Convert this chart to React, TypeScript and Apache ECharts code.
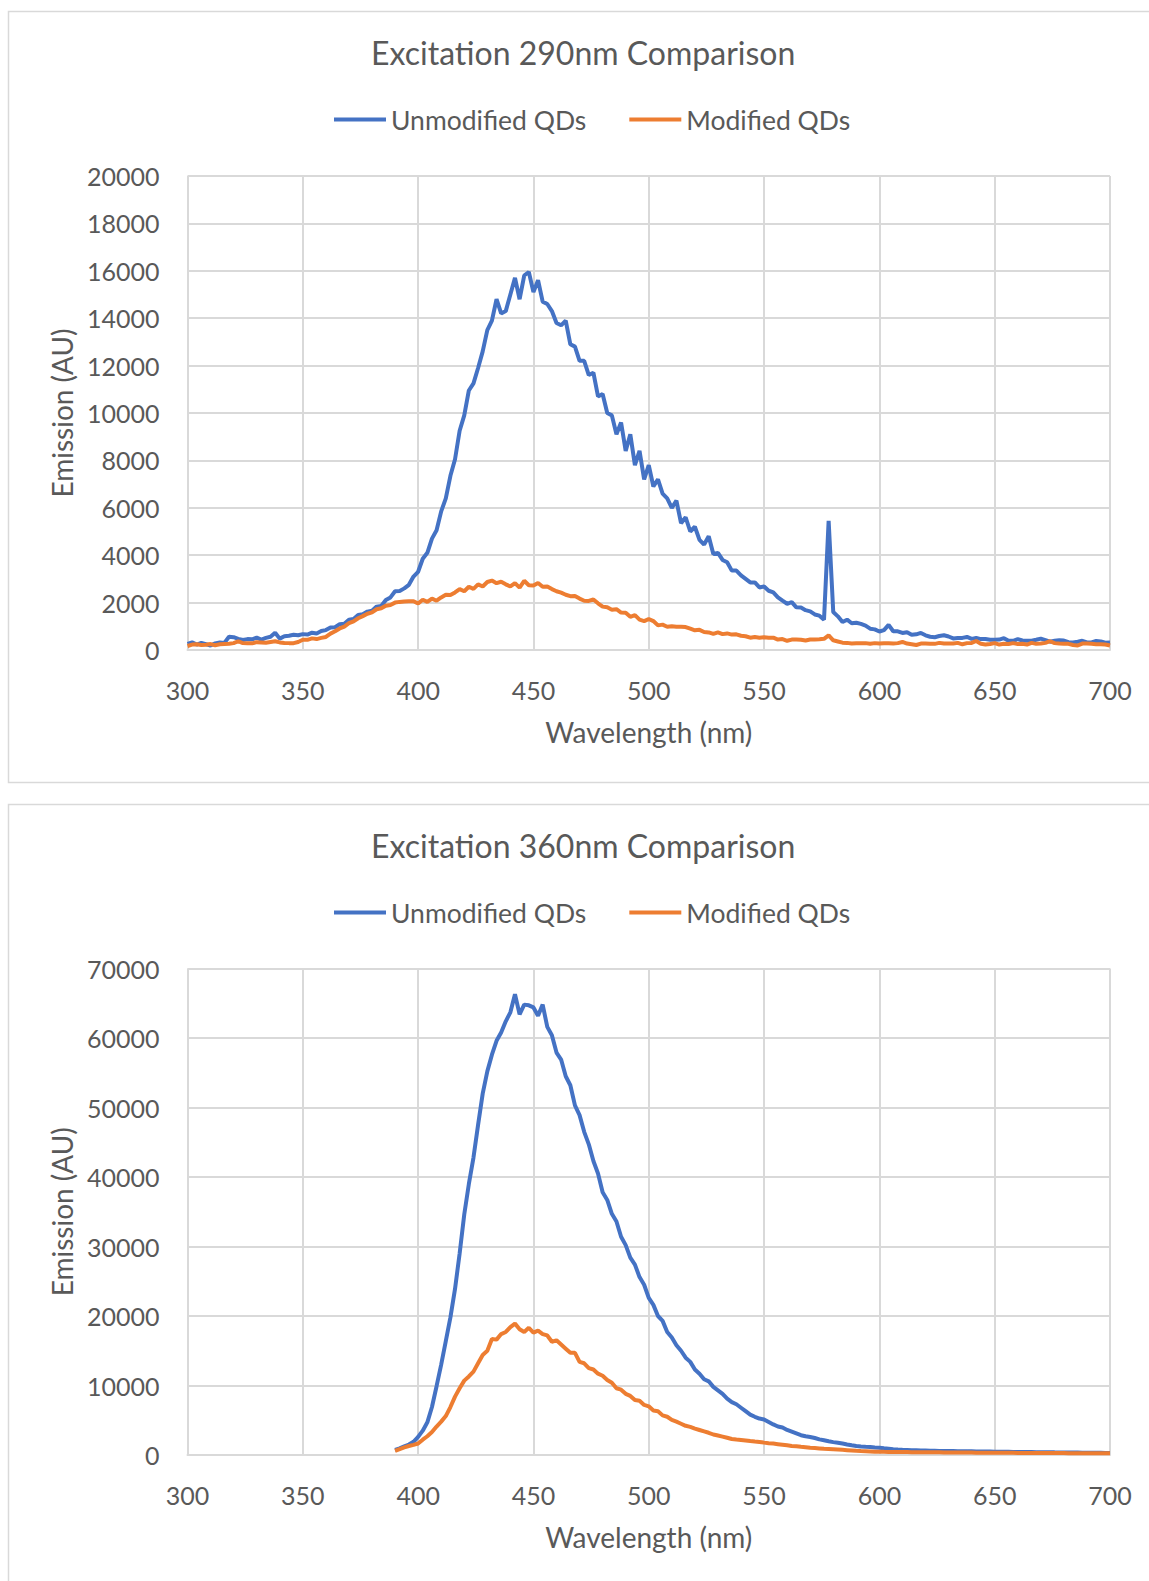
import React, { useEffect, useRef } from "react";
import * as echarts from "echarts";

// ---------- data ----------
const SERIES_NAMES = ["Unmodified QDs", "Modified QDs"];
const X_TICKS = [300, 350, 400, 450, 500, 550, 600, 650, 700];

// Chart 1: wavelengths 300..700 nm, 2 nm step
const WL_290 = Array.from({ length: 201 }, (_, i) => 300 + 2 * i);
const UNMOD_290 = [
  260, 320, 230, 300, 250, 190, 280, 320, 300, 560,
  540, 470, 420, 460, 450, 520, 440, 510, 560, 730,
  480, 580, 600, 640, 620, 670, 650, 730, 700, 800,
  840, 950, 960, 1090, 1110, 1280, 1310, 1480, 1510, 1620,
  1660, 1830, 1860, 2110, 2220, 2480, 2490, 2600, 2750, 3100,
  3300, 3850, 4100, 4700, 5050, 5850, 6400, 7350, 8050, 9250,
  9900, 10950, 11250, 11900, 12600, 13500, 13900, 14800, 14200, 14300,
  15000, 15700, 14800, 15800, 15950, 15100, 15600, 14700, 14600, 14300,
  13800, 13700, 13900, 12900, 12800, 12200, 12200, 11600, 11700, 10700,
  10800, 10000, 9900, 9100, 9600, 8400, 9100, 7800, 8400, 7200,
  7800, 6900, 7200, 6600, 6400, 6000, 6300, 5350, 5600, 5000,
  5200, 4650, 4450, 4800, 4050, 4100, 3800, 3700, 3350, 3350,
  3150, 3000, 2850, 2850, 2640, 2680, 2500, 2430, 2220, 2080,
  1950, 2020, 1800, 1790, 1680, 1630, 1500, 1450, 1280, 5450,
  1600, 1420, 1180, 1280, 1130, 1150, 1100, 1030, 900, 870,
  780, 840, 1060, 790, 790, 720, 750, 640, 660, 720,
  620, 560, 540, 590, 620, 570, 490, 510, 510, 550,
  470, 510, 460, 460, 430, 430, 440, 500, 390, 390,
  460, 400, 390, 390, 430, 480, 420, 350, 390, 410,
  400, 330, 320, 350, 390, 320, 320, 380, 360, 310,
  320,
];
const MOD_290 = [
  170, 230, 240, 210, 220, 250, 200, 240, 250, 260,
  290, 370, 290, 280, 280, 330, 320, 310, 340, 370,
  320, 300, 290, 290, 340, 430, 430, 490, 460, 510,
  550, 690, 790, 910, 990, 1130, 1210, 1340, 1430, 1530,
  1590, 1720, 1760, 1870, 1900, 2000, 2030, 2050, 2060, 2060,
  1960, 2120, 2030, 2170, 2080, 2220, 2330, 2320, 2430, 2570,
  2480, 2670, 2580, 2770, 2680, 2870, 2930, 2820, 2880, 2770,
  2680, 2820, 2630, 2920, 2730, 2720, 2830, 2670, 2680, 2570,
  2480, 2420, 2330, 2270, 2280, 2170, 2080, 2070, 2130, 1970,
  1830, 1800, 1700, 1720, 1580, 1570, 1400, 1470, 1280, 1220,
  1310, 1220, 1040, 1070, 980, 1000, 980, 980, 970, 900,
  830, 850, 760, 740, 680, 740, 670, 700, 650, 660,
  600, 580, 520, 550, 520, 540, 520, 520, 440, 460,
  390, 440, 440, 430, 400, 440, 440, 450, 470, 620,
  410, 360, 310, 300, 270, 280, 280, 290, 260, 290,
  270, 280, 280, 270, 290, 340, 270, 240, 210, 270,
  270, 260, 260, 300, 270, 270, 270, 300, 240, 290,
  300, 380, 260, 230, 250, 290, 230, 260, 250, 290,
  250, 260, 230, 300, 260, 270, 300, 370, 290, 270,
  260, 260, 210, 190, 270, 270, 260, 240, 240, 230,
  190,
];

// Chart 2: wavelengths 390..700 nm, 2 nm step
const WL_360 = Array.from({ length: 156 }, (_, i) => 390 + 2 * i);
const UNMOD_360 = [
  720, 950, 1250, 1500, 1900, 2600, 3500, 4700, 6900, 9900,
  13000, 16400, 19800, 23900, 29000, 34600, 39000, 42800, 47500, 52000,
  55200, 57600, 59600, 60800, 62400, 63700, 66300, 63400, 64800, 64700,
  64400, 63200, 64800, 61600, 60400, 57900, 56900, 54500, 53200, 50300,
  48900, 46500, 44700, 42300, 40500, 37800, 36700, 34700, 33600, 31400,
  30200, 28400, 27400, 25600, 24500, 22600, 21600, 20000, 19300, 17700,
  16900, 15800, 15000, 14000, 13400, 12300, 11700, 10900, 10600, 9800,
  9300, 8800, 8100, 7600, 7300, 6800, 6300, 5800, 5500, 5250,
  5100, 4750, 4400, 4100, 3950, 3600, 3350, 3100, 2850, 2700,
  2600, 2450, 2250, 2120, 1980, 1850, 1750, 1650, 1520, 1400,
  1300, 1230, 1180, 1150, 1080, 1040, 960, 900, 830, 780,
  750, 730, 700, 680, 650, 630, 610, 600, 590, 580,
  570, 560, 550, 545, 535, 525, 515, 505, 500, 490,
  480, 470, 465, 455, 445, 440, 430, 425, 420, 410,
  400, 395, 390, 380, 375, 370, 360, 355, 350, 340,
  335, 330, 320, 310, 300, 290,
];
const MOD_360 = [
  600, 850, 1100, 1300, 1450, 1650, 2200, 2700, 3300, 4100,
  4800, 5600, 6900, 8400, 9600, 10700, 11300, 12000, 13200, 14400,
  15000, 16700, 16600, 17400, 17700, 18400, 18900, 18100, 17700, 18300,
  17600, 17900, 17400, 17200, 16300, 16500, 15900, 15300, 14700, 14700,
  13400, 13200, 12500, 12300, 11700, 11400, 10800, 10400, 9600, 9400,
  8800, 8500, 7900, 7800, 7200, 7000, 6400, 6300, 5700, 5500,
  5050, 4800, 4500, 4200, 4050, 3800, 3600, 3400, 3200, 2950,
  2800, 2650, 2480, 2300, 2220, 2150, 2080, 2000, 1930, 1870,
  1780, 1700, 1640, 1560, 1480, 1400, 1300, 1250, 1180, 1120,
  1050, 1000, 950, 900, 860, 820, 780, 740, 700, 660,
  610, 570, 540, 510, 480, 470, 450, 440, 430, 425,
  420, 415, 410, 400, 405, 395, 390, 380, 385, 375,
  370, 365, 355, 360, 350, 345, 340, 338, 330, 332,
  330, 325, 318, 315, 310, 305, 300, 298, 290, 292,
  287, 284, 280, 277, 270, 272, 267, 264, 260, 258,
  256, 254, 250, 252, 250, 248,
];

// ---------- styling ----------
const BLUE = "#4472C4";
const ORANGE = "#ED7D31";
const TEXT = "#595959";
const GRIDC = "#D9D9D9";
const FONT = "Lato";

function pairs(xs: number[], ys: number[]) {
  return xs.map((x, i) => [x, ys[i]]);
}

export default function App() {
  const ref = useRef<HTMLDivElement>(null);
  useEffect(() => {
    if (!ref.current) return;
    const chart = echarts.init(ref.current, undefined, { renderer: "svg" });

    const xAxisBase = (gridIndex: number) => ({
      type: "value",
      gridIndex,
      min: 300,
      max: 700,
      interval: 50,
      name: "Wavelength (nm)",
      nameLocation: "middle",
      nameGap: 68,
      nameTextStyle: { fontSize: 28, color: TEXT, fontFamily: FONT },
      axisLine: { show: true, lineStyle: { color: GRIDC, width: 2 } },
      axisTick: { show: false },
      axisLabel: {
        fontSize: 25,
        color: TEXT,
        fontFamily: FONT,
        margin: 27,
        formatter: (v: number) => (X_TICKS.includes(v) ? String(v) : ""),
      },
      splitLine: { show: true, lineStyle: { color: GRIDC, width: 2 } },
    });
    const yAxisBase = (gridIndex: number, max: number, interval: number) => ({
      type: "value",
      gridIndex,
      min: 0,
      max,
      interval,
      name: "Emission (AU)",
      nameLocation: "middle",
      nameGap: 107,
      nameTextStyle: { fontSize: 28, color: TEXT, fontFamily: FONT },
      axisLine: { show: false },
      axisTick: { show: false },
      axisLabel: {
        fontSize: 25,
        color: TEXT,
        fontFamily: FONT,
        margin: 28,
        formatter: (v: number) => String(v),
      },
      splitLine: { show: true, lineStyle: { color: GRIDC, width: 2 } },
    });
    const legendBase = (top: number) => ({
      data: SERIES_NAMES,
      left: 334,
      top,
      padding: 0,
      icon: "rect",
      itemWidth: 52,
      itemHeight: 4,
      itemGap: 43,
      textStyle: { fontSize: 26.5, color: TEXT, fontFamily: FONT },
    });
    const titleBase = (text: string, top: number) => ({
      text,
      left: 371,
      top,
      padding: 0,
      textStyle: { fontSize: 32, fontWeight: "normal", color: TEXT, fontFamily: FONT },
    });
    const line = (name: string, color: string, xi: number, data: number[][]) => ({
      name,
      type: "line",
      xAxisIndex: xi,
      yAxisIndex: xi,
      data,
      symbol: "none",
      lineStyle: { color, width: 4 },
      itemStyle: { color },
    });

    chart.setOption({
      animation: false,
      backgroundColor: "#ffffff",
      textStyle: { fontFamily: FONT },
      title: [
        titleBase("Excitation 290nm Comparison", 36),
        titleBase("Excitation 360nm Comparison", 829),
      ],
      legend: [legendBase(106), legendBase(899)],
      grid: [
        { left: 187.5, top: 176, width: 922.5, height: 474 },
        { left: 187.5, top: 968.5, width: 922.5, height: 486.5 },
      ],
      xAxis: [xAxisBase(0), xAxisBase(1)],
      yAxis: [yAxisBase(0, 20000, 2000), yAxisBase(1, 70000, 10000)],
      series: [
        line(SERIES_NAMES[0], BLUE, 0, pairs(WL_290, UNMOD_290)),
        line(SERIES_NAMES[1], ORANGE, 0, pairs(WL_290, MOD_290)),
        line(SERIES_NAMES[0], BLUE, 1, pairs(WL_360, UNMOD_360)),
        line(SERIES_NAMES[1], ORANGE, 1, pairs(WL_360, MOD_360)),
      ],
      graphic: [
        {
          type: "rect",
          silent: true,
          shape: { x: 8.5, y: 11.5, width: 1160, height: 771 },
          style: { fill: "none", stroke: GRIDC, lineWidth: 1.5 },
        },
        {
          type: "rect",
          silent: true,
          shape: { x: 8.5, y: 804.5, width: 1160, height: 800 },
          style: { fill: "none", stroke: GRIDC, lineWidth: 1.5 },
        },
      ],
    });
    return () => chart.dispose();
  }, []);
  return (
    <div
      ref={ref}
      style={{ position: "absolute", left: 0, top: 0, width: 1149, height: 1581 }}
    />
  );
}
